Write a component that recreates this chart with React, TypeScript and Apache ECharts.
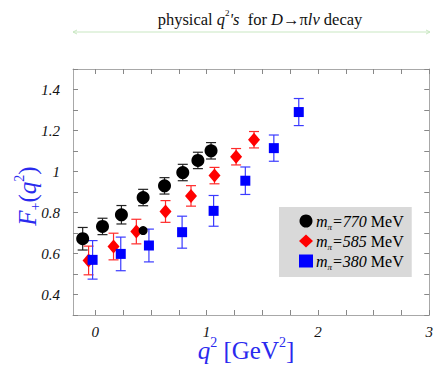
import React, { useEffect, useRef } from "react";
import * as echarts from "echarts";

// Tick values and labels
const xTickLabels = [0, 1, 2, 3];
const xTicks = [0, 0.25, 0.5, 0.75, 1, 1.25, 1.5, 1.75, 2, 2.25, 2.5, 2.75, 3];
const yTickLabels = [0.4, 0.6, 0.8, 1, 1.2, 1.4];
const yTicks = [0.3, 0.4, 0.5, 0.6, 0.7, 0.8, 0.9, 1, 1.1, 1.2, 1.3, 1.4, 1.5];

// m_pi = 770 MeV
const m770X = [-0.113, 0.065, 0.235, 0.43, 0.622, 0.786, 0.922, 1.04];
const m770Y = [0.672, 0.732, 0.789, 0.873, 0.93, 0.995, 1.054, 1.101];
const m770Err = [0.055, 0.04, 0.045, 0.04, 0.04, 0.04, 0.04, 0.04];
// stray small black point
const extraX = [0.43];
const extraY = [0.712];

// m_pi = 585 MeV
const m585X = [-0.06, 0.164, 0.369, 0.631, 0.86, 1.071, 1.265, 1.426];
const m585Y = [0.566, 0.634, 0.707, 0.805, 0.881, 0.98, 1.072, 1.155];
const m585Err = [0.07, 0.065, 0.06, 0.053, 0.05, 0.04, 0.04, 0.04];

// m_pi = 380 MeV
const m380X = [-0.024, 0.229, 0.482, 0.78, 1.063, 1.348, 1.604, 1.828];
const m380Y = [0.569, 0.598, 0.639, 0.704, 0.808, 0.955, 1.114, 1.29];
const m380Err = [0.094, 0.082, 0.08, 0.078, 0.075, 0.067, 0.064, 0.066];

const SERIF = "Liberation Serif";
const BLUE = "#2a2aee";

function errData(xs: number[], ys: number[], es: number[]) {
  return xs.map((x, i) => [x, ys[i] - es[i], ys[i] + es[i]]);
}
function ptData(xs: number[], ys: number[]) {
  return xs.map((x, i) => [x, ys[i]]);
}

function errSeries(data: number[][], color: string) {
  return {
    type: "custom",
    data,
    encode: { x: 0, y: [1, 2] },
    z: 1,
    silent: true,
    renderItem: (params: any, api: any) => {
      const x = api.value(0);
      const lo = api.coord([x, api.value(1)]);
      const hi = api.coord([x, api.value(2)]);
      const w = 5;
      const style = { stroke: color, lineWidth: 1.2 };
      return {
        type: "group",
        children: [
          { type: "line", shape: { x1: lo[0], y1: lo[1], x2: hi[0], y2: hi[1] }, style },
          { type: "line", shape: { x1: lo[0] - w, y1: lo[1], x2: lo[0] + w, y2: lo[1] }, style },
          { type: "line", shape: { x1: hi[0] - w, y1: hi[1], x2: hi[0] + w, y2: hi[1] }, style },
        ],
      };
    },
  };
}

const axisLineStyle = { color: "#a8a8a8", width: 1 };
const tickStyle = { color: "#888", width: 1 };

export default function App() {
  const ref = useRef<HTMLDivElement>(null);
  useEffect(() => {
    if (!ref.current) return;
    const chart = echarts.init(ref.current, null, { renderer: "svg" });
    const labelStyle = {
      fontFamily: SERIF,
      fontStyle: "italic" as const,
      fontSize: 15,
      color: "#111",
    };
    const option: any = {
      animation: false,
      backgroundColor: "#fff",
      grid: { left: 73, top: 69, right: 4, bottom: 61 },
      xAxis: [
        {
          type: "value",
          min: -0.2,
          max: 3,
          position: "bottom",
          axisLine: { show: true, onZero: false, lineStyle: axisLineStyle },
          axisTick: { show: true, inside: true, length: 5, customValues: xTicks, lineStyle: tickStyle },
          axisLabel: { ...labelStyle, margin: 9, customValues: xTickLabels },
          splitLine: { show: false },
        },
        {
          type: "value",
          min: -0.2,
          max: 3,
          position: "top",
          axisLine: { show: true, onZero: false, lineStyle: axisLineStyle },
          axisTick: { show: true, inside: true, length: 5, customValues: xTicks, lineStyle: tickStyle },
          axisLabel: { show: false },
          splitLine: { show: false },
        },
      ],
      yAxis: [
        {
          type: "value",
          min: 0.3,
          max: 1.5,
          position: "left",
          axisLine: { show: true, onZero: false, lineStyle: axisLineStyle },
          axisTick: { show: true, inside: true, length: 5, customValues: yTicks, lineStyle: tickStyle },
          axisLabel: { ...labelStyle, margin: 13, customValues: yTickLabels },
          splitLine: { show: false },
        },
        {
          type: "value",
          min: 0.3,
          max: 1.5,
          position: "right",
          axisLine: { show: true, onZero: false, lineStyle: axisLineStyle },
          axisTick: { show: true, inside: true, length: 5, customValues: yTicks, lineStyle: tickStyle },
          axisLabel: { show: false },
          splitLine: { show: false },
        },
      ],
      legend: {
        orient: "vertical",
        left: 279,
        top: 207,
        width: 133,
        padding: [6, 8, 6, 20],
        itemGap: 2,
        itemWidth: 14,
        itemHeight: 13,
        backgroundColor: "#d9d9d9",
        data: ["mπ=770 MeV", "mπ=585 MeV", "mπ=380 MeV"],
        formatter: (name: string) => {
          const m = name.match(/\d+/);
          const v = m ? m[0] : "";
          return `{i|m}{s|π}{i|=${v}}{n| MeV}`;
        },
        textStyle: {
          fontFamily: SERIF,
          fontSize: 16,
          color: "#000",
          padding: [0, 0, 0, -2],
          rich: {
            i: { fontFamily: SERIF, fontStyle: "italic", fontSize: 16, lineHeight: 20, color: "#000" },
            s: { fontFamily: SERIF, fontStyle: "italic", fontSize: 9, lineHeight: 9, verticalAlign: "bottom", color: "#000" },
            n: { fontFamily: SERIF, fontSize: 16, lineHeight: 20, color: "#000" },
          },
        },
      },
      series: [
        errSeries(errData(m770X, m770Y, m770Err), "#222"),
        errSeries(errData(m585X, m585Y, m585Err), "#ff2a2a"),
        errSeries(errData(m380X, m380Y, m380Err), "#3b3bff"),
        {
          name: "mπ=585 MeV",
          type: "scatter",
          symbol: "diamond",
          symbolSize: [12, 14],
          itemStyle: { color: "#ff0000", opacity: 1 },
          data: ptData(m585X, m585Y),
          z: 3,
        },
        {
          name: "mπ=380 MeV",
          type: "scatter",
          symbol: "rect",
          symbolSize: 10,
          itemStyle: { color: "#0000ff", opacity: 1 },
          data: ptData(m380X, m380Y),
          z: 3,
        },
        {
          name: "mπ=770 MeV",
          type: "scatter",
          symbol: "circle",
          symbolSize: 13,
          itemStyle: { color: "#000", opacity: 1 },
          data: ptData(m770X, m770Y),
          z: 4,
        },
        {
          name: "extra",
          type: "scatter",
          symbol: "circle",
          symbolSize: 9,
          itemStyle: { color: "#000", opacity: 1 },
          data: ptData(extraX, extraY),
          z: 5,
        },
      ],
      graphic: [
        {
          type: "text",
          x: 260,
          y: 19,
          style: {
            text: "{n|physical }{i|q}{u|2}{i|'s}{n|  for }{i|D}{n|→π}{i|lν}{n| decay}",
            align: "center",
            verticalAlign: "middle",
            rich: {
              n: { fontFamily: SERIF, fontSize: 16.5, lineHeight: 22, fill: "#111" },
              i: { fontFamily: SERIF, fontStyle: "italic", fontSize: 16.5, lineHeight: 22, fill: "#111" },
              u: { fontFamily: SERIF, fontSize: 9, lineHeight: 11, verticalAlign: "top", fill: "#111" },
            },
          },
        },
        {
          type: "line",
          shape: { x1: 73, y1: 32, x2: 430, y2: 32 },
          style: { stroke: "#c9e7c2", lineWidth: 1 },
        },
        {
          type: "polyline",
          shape: { points: [[77, 30], [73, 32], [77, 34]] },
          style: { stroke: "#c9e7c2", lineWidth: 1, fill: null },
        },
        {
          type: "polyline",
          shape: { points: [[426, 30], [430, 32], [426, 34]] },
          style: { stroke: "#c9e7c2", lineWidth: 1, fill: null },
        },
        {
          type: "text",
          x: 27,
          y: 196,
          rotation: Math.PI / 2,
          style: {
            text: "{i|F}{d|+}{n|(}{i|q}{u|2}{n|)}",
            align: "center",
            verticalAlign: "middle",
            rich: {
              n: { fontFamily: SERIF, fontSize: 25, lineHeight: 30, fill: BLUE },
              i: { fontFamily: SERIF, fontStyle: "italic", fontSize: 25, lineHeight: 30, fill: BLUE },
              d: { fontFamily: SERIF, fontSize: 14, lineHeight: 12, verticalAlign: "bottom", fill: BLUE },
              u: { fontFamily: SERIF, fontSize: 14, lineHeight: 14, verticalAlign: "top", fill: BLUE },
            },
          },
        },
        {
          type: "text",
          x: 246,
          y: 350,
          style: {
            text: "{i|q}{u|2}{n| [GeV}{u|2}{n|]}",
            align: "center",
            verticalAlign: "middle",
            rich: {
              n: { fontFamily: SERIF, fontSize: 25, lineHeight: 30, fill: BLUE },
              i: { fontFamily: SERIF, fontStyle: "italic", fontSize: 25, lineHeight: 30, fill: BLUE },
              u: { fontFamily: SERIF, fontSize: 14, lineHeight: 14, verticalAlign: "top", fill: BLUE },
            },
          },
        },
      ],
    };
    chart.setOption(option);
    return () => chart.dispose();
  }, []);
  return (
    <div
      ref={ref}
      style={{ position: "absolute", left: 0, top: 0, width: 436, height: 376 }}
    />
  );
}
